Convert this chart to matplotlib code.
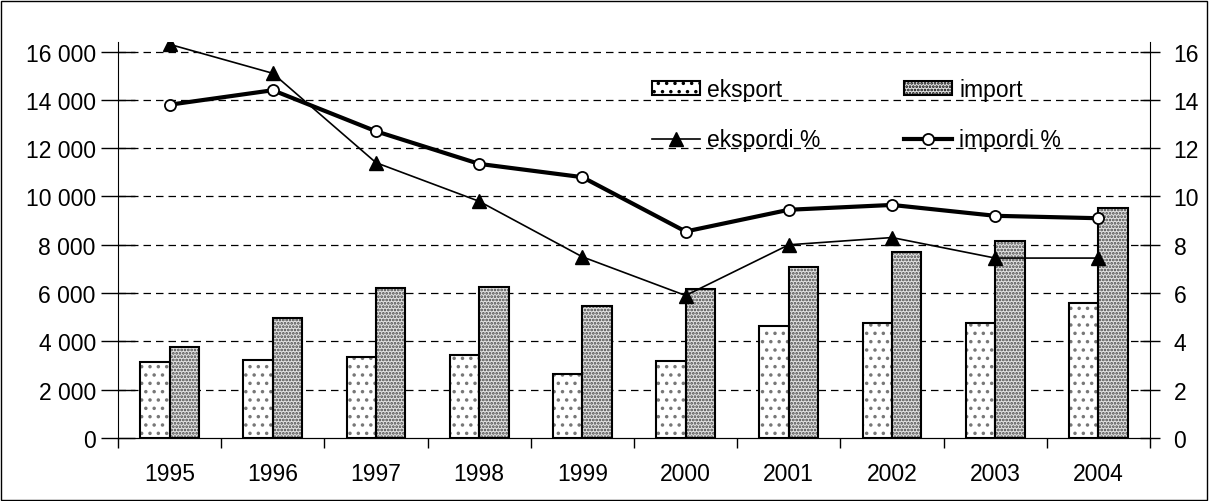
import numpy as np
import matplotlib.pyplot as plt
from matplotlib.patches import Rectangle

plt.rcParams['font.family'] = ['Liberation Sans', 'DejaVu Sans']
plt.rcParams['hatch.linewidth'] = 1.3

years = ['1995', '1996', '1997', '1998', '1999', '2000', '2001', '2002', '2003', '2004']
eksport = [3150, 3230, 3360, 3440, 2650, 3200, 4650, 4750, 4750, 5600]
imp = [3770, 4970, 6200, 6250, 5450, 6180, 7090, 7710, 8170, 9530]
ekspordi_pct = [16.3, 15.1, 11.4, 9.8, 7.5, 5.9, 8.0, 8.3, 7.45, 7.45]
impordi_pct = [13.8, 14.4, 12.7, 11.35, 10.8, 8.55, 9.45, 9.65, 9.2, 9.1]

fs = 16.5

fig = plt.figure(figsize=(12.09, 5.02), dpi=100)
fig.patches.append(Rectangle((0.001, 0.002), 0.997, 0.995, transform=fig.transFigure,
                             fill=False, edgecolor='black', linewidth=1))
ax = fig.add_axes([0.0976, 0.1255, 0.8536, 0.789])
x = np.arange(len(years))
w = 0.285

# hatch layer first (grey dots), then black outline on top
ax.bar(x - w / 2, eksport, w, facecolor='white', edgecolor='#777777', hatch='..', linewidth=0, zorder=3)
ax.bar(x + w / 2, imp, w, facecolor='#e2e2e2', edgecolor='#444444', hatch='.....', linewidth=0, zorder=3)
ax.bar(x - w / 2, eksport, w, fill=False, edgecolor='black', linewidth=1.5, zorder=3.5)
ax.bar(x + w / 2, imp, w, fill=False, edgecolor='black', linewidth=1.5, zorder=3.5)

ax.set_xlim(-0.5, len(years) - 0.5)
ax.set_ylim(0, 16400)
ax.set_yticks(np.arange(0, 16001, 2000))
ax.set_yticklabels([f'{v:,}'.replace(',', ' ') for v in range(0, 16001, 2000)])
for yv in range(2000, 16001, 2000):
    ax.axhline(yv, color='black', linestyle=(0, (6, 4)), linewidth=0.9, zorder=1)

ax.set_xticks(x)
ax.set_xticklabels(years)
ax.set_xticks(np.arange(-0.5, len(years)), minor=True)
ax.tick_params(axis='x', which='major', length=0, pad=17, labelsize=fs)
ax.tick_params(axis='x', which='minor', length=7, direction='out', width=1)
ax.tick_params(axis='y', length=24, direction='inout', labelsize=fs, width=1, pad=4)
ax.spines['top'].set_visible(False)
ax.spines['right'].set_visible(False)

ax2 = ax.twinx()
ax2.set_ylim(0, 16.4)
ax2.set_yticks(np.arange(0, 17, 2))
ax2.tick_params(axis='y', length=14, direction='inout', labelsize=fs, width=1, pad=10)
ax2.spines['top'].set_visible(False)
ax2.spines['left'].set_visible(False)
l1, = ax2.plot(x, ekspordi_pct, color='black', linewidth=1.2, marker='^', markersize=10,
               markerfacecolor='black', zorder=4)
l2, = ax2.plot(x, impordi_pct, color='black', linewidth=3, marker='o', markersize=8,
               markerfacecolor='white', markeredgewidth=1.3, zorder=5)

# legend proxies
h1 = Rectangle((0, 0), 1, 1, facecolor='white', edgecolor='black', hatch='..', linewidth=1.5)
h2 = Rectangle((0, 0), 1, 1, facecolor='#e2e2e2', edgecolor='black', hatch='.....', linewidth=1.5)
ax2.legend([h1, l1, h2, l2], ['eksport', 'ekspordi %', 'import', 'impordi %'],
           ncol=2, frameon=False, fontsize=fs, loc='upper left',
           bbox_to_anchor=(652 / 1209, 1 - 79 / 502), bbox_transform=fig.transFigure,
           borderaxespad=0, borderpad=0, columnspacing=3.65, handlelength=2.1,
           handleheight=0.55, handletextpad=0.3, labelspacing=1.2)

fig.savefig('out.png', dpi=100)
